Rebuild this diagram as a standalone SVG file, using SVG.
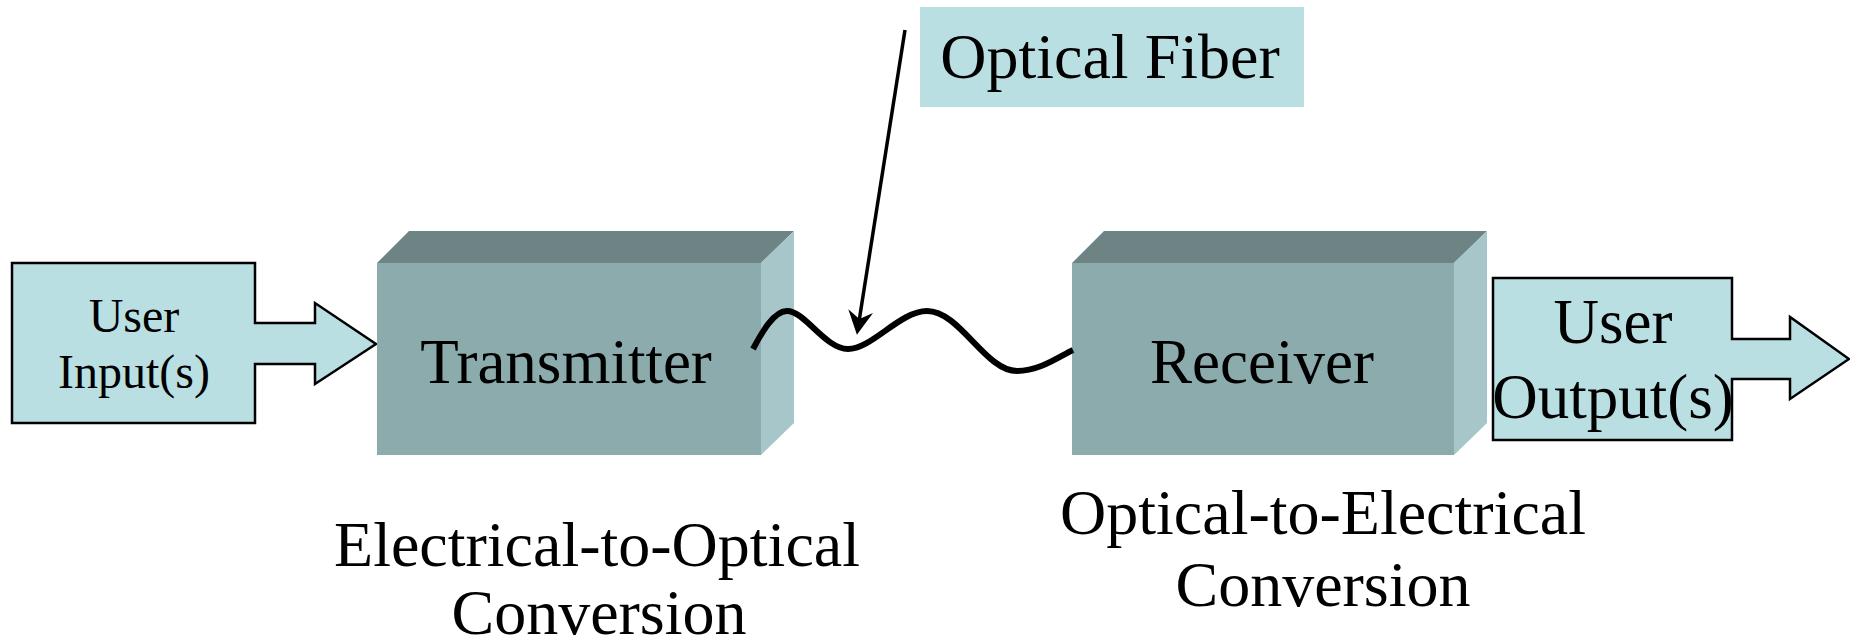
<svg xmlns="http://www.w3.org/2000/svg" width="1850" height="642" viewBox="0 0 1850 642">
<style>
.lbl{font-family:"Liberation Serif","Times New Roman",serif;fill:#000;text-anchor:middle}
.io{fill:#B9DFE2;stroke:#000;stroke-width:2.5;stroke-linejoin:miter}
.front{fill:#8CABAC}
.top{fill:#6E8384}
.side{fill:#A6C6C9}
.wire{fill:none;stroke:#000;stroke-width:6;stroke-linecap:butt}
.ptr{fill:none;stroke:#000;stroke-width:3.5}
</style>
<defs>
<marker id="head" markerUnits="userSpaceOnUse" viewBox="-26 -14 28 28" refX="-16" refY="0" markerWidth="28" markerHeight="28" orient="auto">
<path d="M0,0 L-24,-12.5 L-16,0 L-24,12.5 Z" fill="#000"/>
</marker>
</defs>
<rect width="1850" height="642" fill="#fff"/>
<g id="input">
<polygon class="io" points="12,263 255,263 255,323 315,323 315,303 376,344 315,384 315,364 255,364 255,423 12,423"/>
<text class="lbl" x="134" y="332" font-size="48">User</text>
<text class="lbl" x="134" y="388" font-size="48">Input(s)</text>
</g>
<g id="transmitter">
<rect class="front" x="377" y="263" width="384" height="192"/>
<polygon class="top" points="377,263 409,231 794,231 761,263"/>
<polygon class="side" points="761,263 794,231 794,423 761,455"/>
<text class="lbl" x="566" y="383" font-size="63">Transmitter</text>
</g>
<g id="receiver">
<rect class="front" x="1072" y="263" width="382" height="192"/>
<polygon class="top" points="1072,263 1104,231 1487,231 1454,263"/>
<polygon class="side" points="1454,263 1487,231 1487,423 1454,455"/>
<text class="lbl" x="1262" y="383" font-size="63">Receiver</text>
</g>
<g id="output">
<polygon class="io" points="1493,278 1732,278 1732,339 1790,339 1790,317 1849,359 1790,399 1790,379 1732,379 1732,440 1493,440"/>
<text class="lbl" x="1613" y="343" font-size="63">User</text>
<text class="lbl" x="1613" y="418" font-size="63">Output(s)</text>
</g>
<g id="fiber-label">
<rect x="920" y="7" width="384" height="100" fill="#B9DFE2"/>
<text class="lbl" x="1110" y="78" font-size="64">Optical Fiber</text>
</g>
<g id="eo-label">
<text class="lbl" x="597" y="566" font-size="64">Electrical-to-Optical</text>
<text class="lbl" x="599" y="634" font-size="64">Conversion</text>
</g>
<g id="oe-label">
<text class="lbl" x="1323" y="534" font-size="64">Optical-to-Electrical</text>
<text class="lbl" x="1323" y="606" font-size="64">Conversion</text>
</g>
<g id="connectors">
<path class="wire" d="M753,349 C762,332 774,311 787,311 C805,311 825,349 848,349 C872,349 900,311 927,311 C960,311 985,371 1017,371 C1040,371 1060,356 1073,350"/>
<line class="ptr" x1="905" y1="30" x2="859.4" y2="319" marker-end="url(#head)"/>
</g>
</svg>
